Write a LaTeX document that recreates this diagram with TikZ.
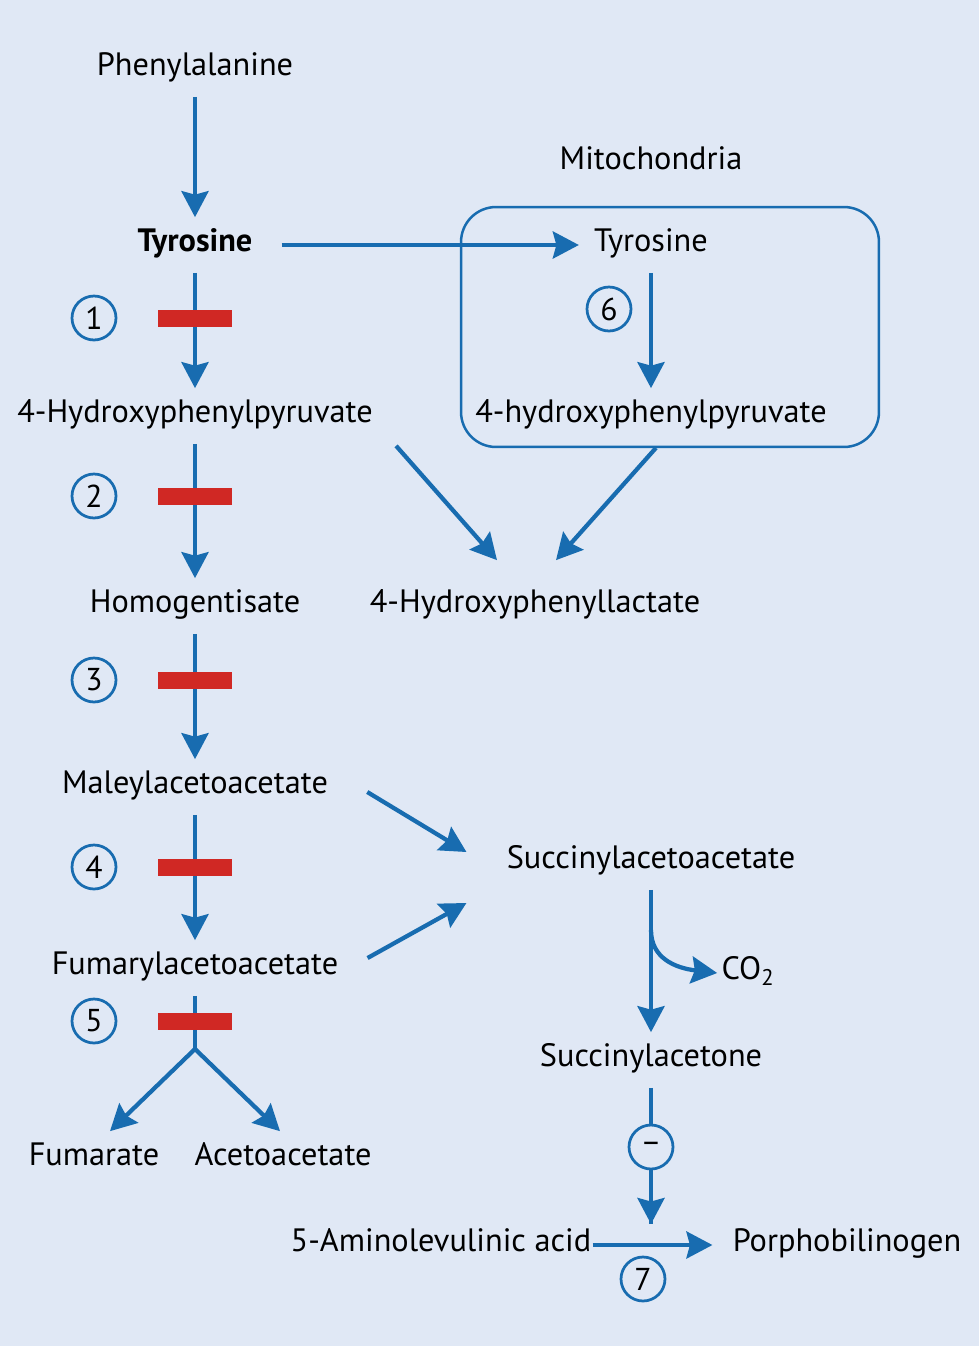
\documentclass[tikz,border=0pt]{standalone}
\usepackage{fontspec}
\setmainfont{PT Sans}
\usetikzlibrary{arrows.meta}
\definecolor{bgblue}{RGB}{224,232,245}
\definecolor{arrowblue}{RGB}{24,108,176}
\definecolor{blockred}{RGB}{208,40,36}
\tikzstyle{mol}=[inner sep=0.3cm,text height=0.38cm,text depth=0.12cm,font=\fontsize{18.4}{22}\selectfont]
\tikzstyle{flow}=[draw=arrowblue,line width=0.085cm,-{Stealth[length=0.52cm,width=0.54cm,inset=0.07cm]}]
\tikzstyle{enz}=[circle,draw=arrowblue,fill=bgblue,line width=0.055cm,minimum size=0.88cm,inner sep=0pt,font=\fontsize{18}{22}\selectfont]
\tikzstyle{block}=[rectangle,fill=blockred,minimum width=1.48cm,minimum height=0.34cm,inner sep=0pt]

\begin{document}
\begin{tikzpicture}[x=0.02cm,y=-0.02cm]
		\fill[bgblue] (0,0) rectangle (979,1346);
		\useasboundingbox (0,0) rectangle (979,1346);
		% mitochondria
		\node[draw=arrowblue,line width=0.05cm,rounded corners=0.7cm,minimum width=8.36cm,minimum height=4.8cm] at (670,327) (mito) {};
		\node[mol] at (651,163) (mitolabel) {Mitochondria};
		\node[mol] at (195,69) (phe) {Phenylalanine};
		\node[mol,font=\fontsize{18.4}{22}\selectfont\bfseries] at (195,245) (tyr) {Tyrosine};
		\node[mol] at (651,245) (tyrm) {Tyrosine};
		\node[mol] at (195,416) (hpp) {4-Hydroxyphenylpyruvate};
		\node[mol] at (651,416) (hppm) {4-hydroxyphenylpyruvate};
		\node[mol] at (195,606) (hgt) {Homogentisate};
		\node[mol] at (535,606) (hpl) {4-Hydroxyphenyllactate};
		\node[mol] at (195,787) (mla) {Maleylacetoacetate};
		\node[mol] at (651,862) (saa) {Succinylacetoacetate};
		\node[mol] at (195,968) (fla) {Fumarylacetoacetate};
		\node[mol,inner sep=0.08cm] at (748,973) (co2) {CO\textsubscript{2}};
		\node[mol] at (651,1060) (sac) {Succinylacetone};
		\node[mol] at (94,1159) (fum) {Fumarate};
		\node[mol] at (283,1159) (aca) {Acetoacetate};
		\node[mol] at (441,1245) (ala) {5-Aminolevulinic acid};
		\node[mol] at (847,1245) (pbg) {Porphobilinogen};
		\coordinate (split) at (195,1049);
		\coordinate (branch) at (651,930);
		\coordinate (hit) at (651,1224);
		% main pathway
		\draw[flow] (phe) -- (tyr);
		\draw[flow,shorten <=0.28cm] (tyr) -- (tyrm);
		\draw[flow] (tyrm) -- (hppm);
		\draw[flow] (tyr) -- (hpp);
		\draw[flow] (hpp) -- (hgt);
		\draw[flow] (hgt) -- (mla);
		\draw[flow] (mla) -- (fla);
		\draw[flow,-] (fla) -- (split);
		\draw[flow] (split) -- ([shift={(16,0)}]fum.north);
		\draw[flow] (split) -- ([shift={(-3,0)}]aca.north);
		\draw[flow] ([shift={(8,2)}]hpp.south east) -- ([shift={(-38,-18)}]hpl.north);
		\draw[flow] ([shift={(5,4)}]hppm.south) -- ([shift={(21,-18)}]hpl.north);
		\draw[flow] ([shift={(24,5)}]mla.east) -- ([shift={(-25,-10)}]saa.west);
		\draw[flow] ([shift={(14,-10)}]fla.east) -- ([shift={(-25,41)}]saa.west);
		\draw[flow] (saa) -- (sac);
		\draw[flow] (branch) .. controls (651,958) and (675,968) .. (co2.west);
		\draw[flow,-] (sac) -- (hit);
		\draw[flow,shorten <=-0.28cm,shorten >=0.1cm] (ala) -- (pbg);
		% blocks and enzymes
		\foreach \y/\n in {318/1,496/2,680/3,867/4,1021/5} {
			\node[block] at (195,\y) (b\n) {};
			\node[enz] at (94,\y) (e\n) {\n};
		}
		\node[enz] at (609,309) (e6) {6};
		\node[enz] at (643,1279) (e7) {7};
		\node[enz] at (651,1147) (inh) {–};
		\draw[flow] (inh) -- (hit);
		\end{tikzpicture}
\end{document}
